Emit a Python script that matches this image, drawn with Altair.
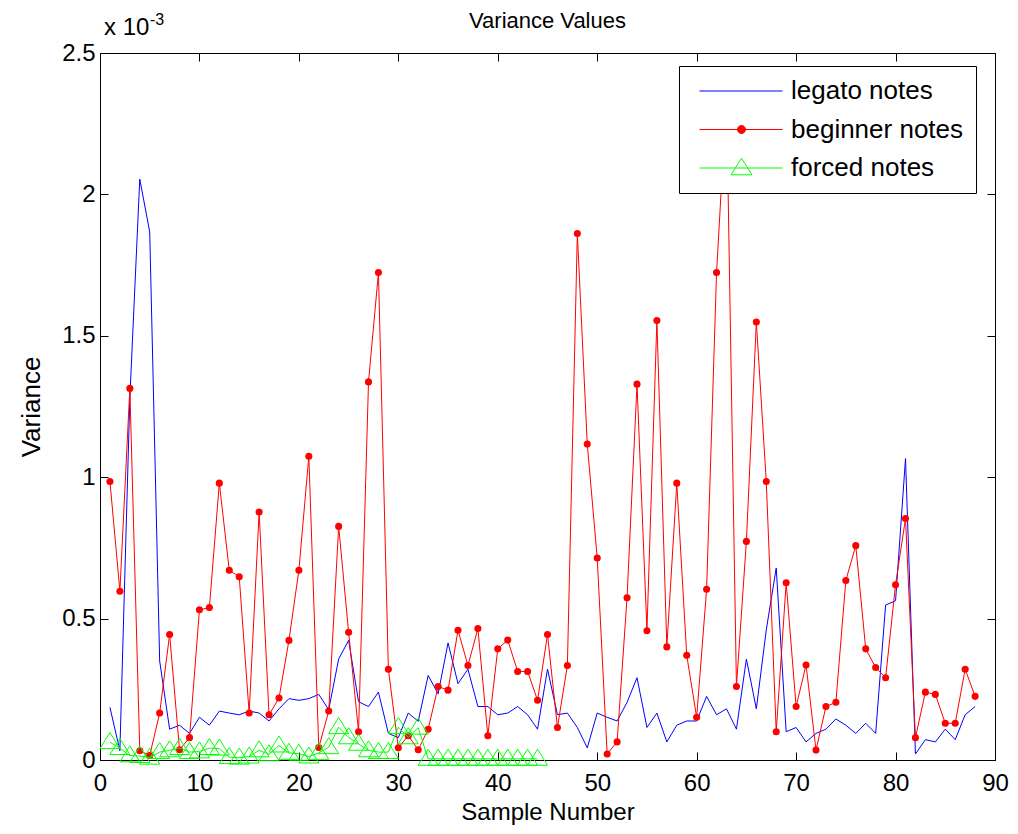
import altair as alt
import pandas as pd

# ---------------- data (values in units of 1e-3) ----------------
x_main_idx = list(range(1, 89))
legato = [0.186, 0.033, 1.28, 2.054, 1.867, 0.350, 0.109, 0.123, 0.094, 0.151,
          0.123, 0.173, 0.166, 0.160, 0.173, 0.166, 0.138, 0.181, 0.217, 0.211,
          0.217, 0.232, 0.178, 0.357, 0.423, 0.206, 0.189, 0.240, 0.094, 0.079,
          0.166, 0.137, 0.299, 0.234, 0.414, 0.270, 0.321, 0.189, 0.189, 0.160,
          0.166, 0.189, 0.160, 0.109, 0.321, 0.160, 0.166, 0.115, 0.043, 0.166,
          0.151, 0.138, 0.204, 0.291, 0.115, 0.166, 0.064, 0.123, 0.138, 0.138,
          0.225, 0.160, 0.181, 0.109, 0.357, 0.181, 0.460, 0.679, 0.100, 0.115,
          0.064, 0.094, 0.109, 0.145, 0.123, 0.094, 0.130, 0.094, 0.548, 0.563,
          1.066, 0.021, 0.072, 0.064, 0.109, 0.072, 0.160, 0.189]
beginner = [0.985, 0.597, 1.314, 0.033, 0.016, 0.166, 0.444, 0.036, 0.079, 0.531,
            0.539, 0.979, 0.671, 0.648, 0.166, 0.877, 0.160, 0.219, 0.423, 0.671,
            1.074, 0.044, 0.173, 0.826, 0.452, 0.100, 1.337, 1.724, 0.321, 0.043,
            0.086, 0.036, 0.109, 0.260, 0.247, 0.459, 0.334, 0.465, 0.086, 0.393,
            0.424, 0.313, 0.313, 0.211, 0.444, 0.115, 0.334, 1.862, 1.117, 0.714,
            0.021, 0.064, 0.574, 1.329, 0.457, 1.554, 0.400, 0.979, 0.370, 0.151,
            0.604, 1.724, 2.350, 0.260, 0.773, 1.549, 0.985, 0.100, 0.627, 0.189,
            0.336, 0.035, 0.189, 0.204, 0.635, 0.758, 0.393, 0.327, 0.291, 0.620,
            0.854, 0.079, 0.240, 0.232, 0.130, 0.130, 0.321, 0.225]
x_forced = list(range(1, 45))
forced = [0.063, 0.042, 0.016, 0.014, 0.008, 0.028, 0.034, 0.042, 0.028, 0.030,
          0.042, 0.040, 0.010, 0.008, 0.012, 0.034, 0.020, 0.051, 0.025, 0.022,
          0.012, 0.025, 0.045, 0.116, 0.080, 0.057, 0.034, 0.028, 0.028, 0.116,
          0.080, 0.114, 0.004, 0.004, 0.004, 0.004, 0.004, 0.004, 0.004, 0.004,
          0.004, 0.004, 0.004, 0.004]

x_ticks = [0, 10, 20, 30, 40, 50, 60, 70, 80, 90]
y_ticks = [0, 0.5, 1, 1.5, 2, 2.5]
series_names = ["legato notes", "beginner notes", "forced notes"]
series_colors = ["#0000ff", "#ff0000", "#00ff00"]

df_leg = pd.DataFrame({"x": x_main_idx, "v": legato, "series": series_names[0]})
df_beg = pd.DataFrame({"x": x_main_idx, "v": beginner, "series": series_names[1]})
df_for = pd.DataFrame({"x": x_forced, "v": forced, "series": series_names[2]})
df_all = pd.concat([df_leg, df_beg, df_for], ignore_index=True)

# ---------------- styling ----------------
FONT = "Liberation Sans"
W, H = 895, 707
TRI = "M0,-0.96L1,0.64L-1,0.64Z"
LEG_PATHS = [
    "M-0.45,0H7.85",
    "M-0.45,0H7.85M4.15,0A0.4,0.4,0,1,1,3.35,0A0.4,0.4,0,1,1,4.15,0Z",
    "M-0.45,0H7.85M3.75,-0.98L4.8,0.68L2.7,0.68Z",
]

xs = alt.Scale(domain=[0, 90], nice=False, zero=False)
ys = alt.Scale(domain=[0, 2.5], nice=False)

x_main = alt.X("x:Q", scale=xs, axis=alt.Axis(
    orient="bottom", values=x_ticks, offset=-8, tickSize=8, domain=False, grid=False,
    labelPadding=11, labelFontSize=24, labelFlush=False, labelOverlap=False,
    title="Sample Number", titleFontSize=24, titleFontWeight="normal", titlePadding=5))
y_main = alt.Y("v:Q", scale=ys, axis=alt.Axis(
    orient="left", values=y_ticks, offset=-8, tickSize=8, domain=False, grid=False,
    labelPadding=5, labelFontSize=24, labelFlush=False, labelOverlap=False, format="~g",
    title="Variance", titleFontSize=26, titleFontWeight="normal", titlePadding=17))
x_top = alt.X("x:Q", scale=xs, axis=alt.Axis(
    orient="top", values=x_ticks, offset=-8, tickSize=8, domain=False, grid=False,
    labels=False, title=None))
y_right = alt.Y("v:Q", scale=ys, axis=alt.Axis(
    orient="right", values=y_ticks, offset=-8, tickSize=8, domain=False, grid=False,
    labels=False, title=None))
x_plain = alt.X("x:Q", scale=xs, axis=None)
y_plain = alt.Y("v:Q", scale=ys, axis=None)

blue = alt.Chart(df_leg).mark_line(color="#0000ff", strokeWidth=1).encode(x=x_main, y=y_main)
red_line = alt.Chart(df_beg).mark_line(color="#ff0000", strokeWidth=1).encode(x=x_plain, y=y_plain)
red_pts = alt.Chart(df_beg).mark_circle(color="#ff0000", size=50, opacity=1).encode(x=x_plain, y=y_plain)
green_line = alt.Chart(df_for).mark_line(color="#00ff00", strokeWidth=1).encode(x=x_plain, y=y_plain)
green_pts = alt.Chart(df_for).mark_point(
    shape=TRI, size=400, filled=False, color="#00ff00", strokeWidth=1, opacity=1
).encode(x=x_top, y=y_right)

leg = alt.Legend(
    title=None, orient="none", legendX=579, legendY=13, direction="vertical",
    fillColor="white", strokeColor="black", padding=12,
    labelFont=FONT, labelFontSize=26, labelColor="black", labelOffset=74, labelLimit=400,
    rowPadding=12.5, symbolSize=400, symbolStrokeWidth=1, symbolOpacity=1)

legend_layer = alt.Chart(df_all).mark_point(opacity=0, size=400).encode(
    x=x_plain, y=y_plain,
    stroke=alt.Stroke("series:N", scale=alt.Scale(domain=series_names, range=series_colors), legend=leg),
    fill=alt.Fill("series:N", scale=alt.Scale(domain=series_names, range=["transparent", "#ff0000", "transparent"]), legend=leg),
    shape=alt.Shape("series:N", scale=alt.Scale(domain=series_names, range=LEG_PATHS), legend=leg),
)

ann = alt.Chart(pd.DataFrame({"t": ["x 10"]})).mark_text(
    align="left", baseline="middle", font=FONT, fontSize=24, color="black"
).encode(text="t:N", x=alt.value(4), y=alt.value(-25))
ann_exp = alt.Chart(pd.DataFrame({"t": ["-3"]})).mark_text(
    align="left", baseline="middle", font=FONT, fontSize=16, color="black"
).encode(text="t:N", x=alt.value(50), y=alt.value(-33))

chart = alt.layer(
    blue, red_line, red_pts, green_line, green_pts, legend_layer, ann, ann_exp
).properties(
    width=W, height=H,
    title=alt.TitleParams("Variance Values", font=FONT, fontSize=22, fontWeight="normal",
                          color="black", anchor="middle", offset=-21),
    padding={"left": 92, "top": 45, "right": 15, "bottom": 66},
    autosize=alt.AutoSizeParams(type="none"),
).configure_view(
    stroke="black", strokeWidth=1
).configure_axis(
    labelFont=FONT, titleFont=FONT, labelColor="black", titleColor="black",
    tickColor="black", tickWidth=1
).configure_legend(
    strokeWidth=1, cornerRadius=0
)

chart.save("out.html", embed_options={"renderer": "svg", "actions": False})
